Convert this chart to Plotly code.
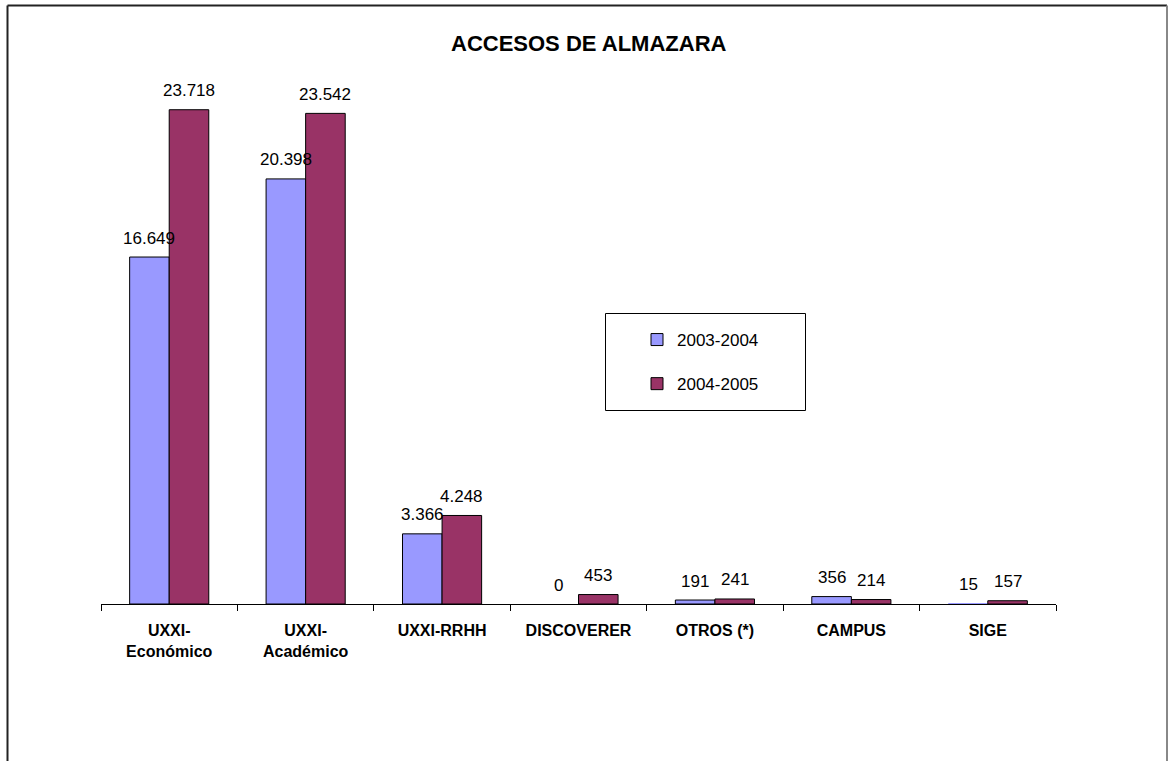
import plotly.graph_objects as go

categories = ["UXXI-<br>Económico", "UXXI-<br>Académico", "UXXI-RRHH", "DISCOVERER",
              "OTROS (*)", "CAMPUS", "SIGE"]
series_names = ["2003-2004", "2004-2005"]
values_2003_2004 = [16649, 20398, 3366, 0, 191, 356, 15]
values_2004_2005 = [23718, 23542, 4248, 453, 241, 214, 157]
title_text = "ACCESOS DE ALMAZARA"

W, H = 1168, 761
ML, MR, MT, MB = 101, 112, 83, 157
PW, PH = W - ML - MR, H - MT - MB

FONT = "Liberation Sans, Arial, sans-serif"
colors = ["#9999FF", "#993366"]


def fmt(v):
    return f"{v:,}".replace(",", ".")


fig = go.Figure()
for name, vals, col, grp in zip(series_names, [values_2003_2004, values_2004_2005], colors, ["a", "b"]):
    fig.add_trace(go.Bar(
        x=categories, y=vals, name=name, legendgroup=grp,
        marker=dict(color=col, line=dict(color="black", width=[0 if v < 50 else 1 for v in vals])),
    ))

# data labels
bar_px = PW / len(categories) * (1 - 0.42) / 2
annotations = []
for vals, shift in [(values_2003_2004, -bar_px / 2), (values_2004_2005, bar_px / 2)]:
    for c, v in zip(categories, vals):
        annotations.append(dict(
            x=c, y=v, xref="x", yref="y", text=fmt(v), showarrow=False,
            xshift=shift, yshift=19, yanchor="middle",
            font=dict(family=FONT, size=17, color="black"),
        ))


def px_x(p):
    return (p - ML) / PW


def px_y(p):
    return 1 - (p - MT) / PH


# title
annotations.append(dict(
    text=f"<b>{title_text}</b>", x=px_x(589), y=px_y(43),
    xref="paper", yref="paper", showarrow=False, yanchor="middle", xanchor="center",
    font=dict(family=FONT, size=22, color="black"),
))

shapes = [
    # chart border
    dict(type="line", xref="paper", yref="paper", x0=px_x(7.5), x1=px_x(7.5), y0=px_y(5.5), y1=px_y(800),
         line=dict(color="#222222", width=2)),
    dict(type="line", xref="paper", yref="paper", x0=px_x(7.5), x1=px_x(1167), y0=px_y(5.5), y1=px_y(5.5),
         line=dict(color="#222222", width=2)),
    dict(type="line", xref="paper", yref="paper", x0=px_x(1167), x1=px_x(1167), y0=px_y(5.5), y1=px_y(800),
         line=dict(color="#888888", width=2)),
    # legend box
    dict(type="rect", xref="paper", yref="paper", x0=px_x(605.5), x1=px_x(805.5), y0=px_y(313.5), y1=px_y(410.5),
         line=dict(color="black", width=1), fillcolor="rgba(0,0,0,0)"),
]

fig.update_layout(
    width=W, height=H,
    margin=dict(l=ML, r=MR, t=MT, b=MB, pad=0),
    paper_bgcolor="white", plot_bgcolor="white",
    barmode="group", bargap=0.42, bargroupgap=0,
    annotations=annotations, shapes=shapes,
    showlegend=True,
    hovermode=False,
    legend=dict(
        x=px_x(637), y=px_y(322), xanchor="left", yanchor="top",
        bgcolor="rgba(0,0,0,0)", borderwidth=0,
        font=dict(family=FONT, size=17, color="black"),
        tracegroupgap=19, traceorder="grouped",
        itemclick=False,
    ),
    xaxis=dict(
        showline=True, linecolor="black", linewidth=1,
        ticks="outside", tickson="boundaries", ticklen=6, tickcolor="black", tickwidth=1,
        tickfont=dict(family=FONT, size=16, color="black", weight="bold"),
        ticklabelstandoff=12,
        showgrid=False, zeroline=False, fixedrange=True,
    ),
    yaxis=dict(range=[0, 25000], visible=False, showgrid=False, zeroline=False, fixedrange=True),
)

fig.write_html("out.html", config={"displayModeBar": False},
               post_script="document.body.style.margin='0';document.body.style.overflow='hidden';")
